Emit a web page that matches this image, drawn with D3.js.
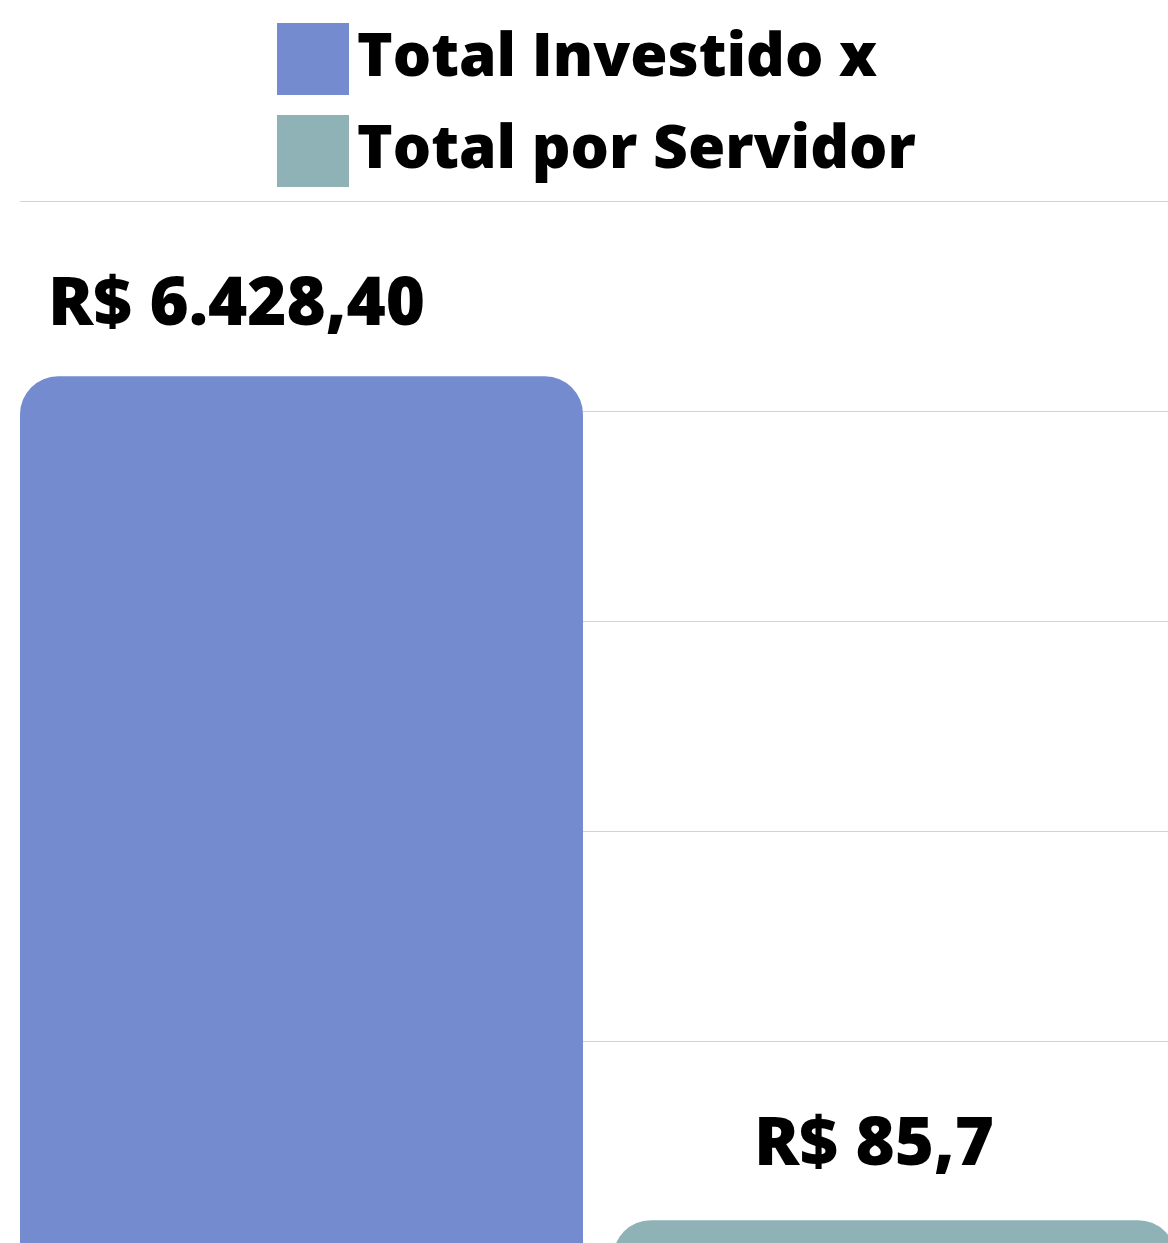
<!DOCTYPE html>
<html>
<head>
<meta charset="utf-8">
<script src="https://cdn.jsdelivr.net/npm/d3@7"></script>
<style>
    body { margin: 0; background: #ffffff; overflow: hidden; }
    text { font-family: "Open Sans", sans-serif; font-weight: 800; }
</style>
</head>
<body>
<div id="chart"></div>
<script>
const categories = ["Total Investido x", "Total por Servidor"];
const values = [6428.40, 85.7];
const valueLabels = ["R$ 6.428,40", "R$ 85,7"];
const colors = ["#748bcf", "#8eb2b6"];
const gridSteps = [0, 1, 2, 3, 4, 5];

const width = 1168;
const height = 1243;

const svg = d3.select("#chart").append("svg")
    .attr("width", width)
    .attr("height", height);

// bars sit in a band scale, cropped below the window
const x = d3.scaleBand().domain(categories).range([20, 1176]).paddingInner(30 / 593).paddingOuter(0);
// value scale (log so both bars show, like the original graphic)
const y = d3.scaleLog().domain([10, 10000]).range([1640, 290]);
const grid = d3.scaleLinear().domain([0, 5]).range([1251, 201]);

svg.append("g").selectAll("line").data(gridSteps).join("line")
    .attr("x1", 20)
    .attr("x2", width)
    .attr("y1", d => grid(d) + 0.5)
    .attr("y2", d => grid(d) + 0.5)
    .attr("stroke", "#d2d2d2")
    .attr("stroke-width", 1);

function topRounded(x0, y0, w, h, r) {
    const p = d3.path();
    p.moveTo(x0, y0 + h);
    p.lineTo(x0, y0 + r);
    p.arcTo(x0, y0, x0 + r, y0, r);
    p.lineTo(x0 + w - r, y0);
    p.arcTo(x0 + w, y0, x0 + w, y0 + r, r);
    p.lineTo(x0 + w, y0 + h);
    p.closePath();
    return p.toString();
}

const rows = categories.map((c, i) => ({cat: c, value: values[i], label: valueLabels[i], color: colors[i]}));

svg.append("g").selectAll("path").data(rows).join("path")
    .attr("d", d => topRounded(x(d.cat), y(d.value), x.bandwidth(), y(10) - y(d.value), 38))
    .attr("fill", d => d.color);

// value labels (offsets as in the original layout)
const labelDx = [28, 141];
const labelDy = [-51, -55];
svg.append("g").selectAll("text").data(rows).join("text")
    .attr("x", (d, i) => x(d.cat) + labelDx[i])
    .attr("y", (d, i) => y(d.value) + labelDy[i])
    .attr("font-size", 67)
    .attr("fill", "#000")
    .text(d => d.label);

// legend
const legend = svg.append("g").attr("transform", "translate(277, 23)");
const item = legend.selectAll("g").data(rows).join("g")
    .attr("transform", (d, i) => `translate(0, ${i * 92})`);
item.append("rect")
    .attr("width", 72)
    .attr("height", 72)
    .attr("fill", d => d.color);
item.append("text")
    .attr("x", 80)
    .attr("y", 53)
    .attr("font-size", 60.4)
    .attr("fill", "#000")
    .text(d => d.cat);
</script>
</body>
</html>
